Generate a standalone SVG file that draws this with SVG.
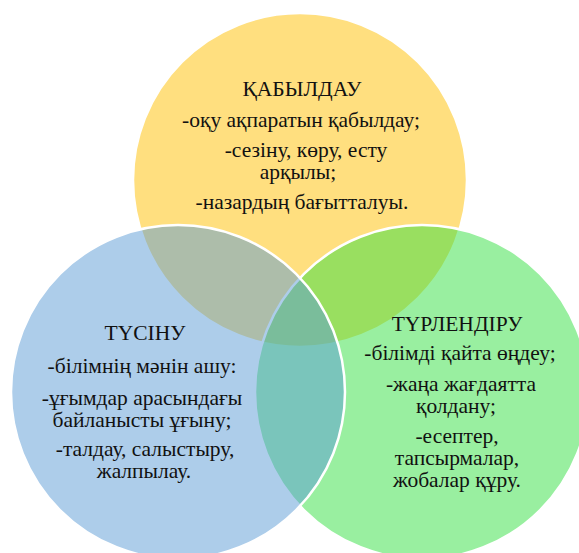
<svg xmlns="http://www.w3.org/2000/svg" width="579" height="553" viewBox="0 0 579 553">
  <style>
    .circle { stroke: #ffffff; stroke-width: 2.5; fill-opacity: 0.5; }
    .label { font-family: "Liberation Serif", "DejaVu Serif", serif; font-size: 21.5px; fill: #111111; text-anchor: middle; }
  </style>
  <rect width="579" height="553" fill="#ffffff"/>

  <!-- three overlapping sets, drawn back to front -->
  <g id="kabyldau">
    <circle class="circle" cx="300" cy="180" r="167" fill="#FFC000"/>
  </g>
  <g id="turlendiru">
    <circle class="circle" cx="422" cy="392" r="167" fill="#33DF41"/>
  </g>
  <g id="tusinu">
    <circle class="circle" cx="178" cy="392" r="167" fill="#5B9BD5"/>
  </g>

  <g id="connectors"></g>

  <!-- labels -->
  <g id="kabyldau-text">
    <text class="label" x="302" y="96">ҚАБЫЛДАУ</text>
    <text class="label" x="301" y="127">-оқу ақпаратын қабылдау;</text>
    <text class="label" x="306" y="157">-сезіну, көру, есту</text>
    <text class="label" x="298" y="179">арқылы;</text>
    <text class="label" x="302" y="209">-назардың бағытталуы.</text>
  </g>
  <g id="tusinu-text">
    <text class="label" x="145" y="340">ТҮСІНУ</text>
    <text class="label" x="142" y="373">-білімнің мәнін ашу:</text>
    <text class="label" x="142" y="405">-ұғымдар арасындағы</text>
    <text class="label" x="142" y="427">байланысты ұғыну;</text>
    <text class="label" x="145" y="456">-талдау, салыстыру,</text>
    <text class="label" x="144" y="478">жалпылау.</text>
  </g>
  <g id="turlendiru-text">
    <text class="label" x="457" y="331">ТҮРЛЕНДІРУ</text>
    <text class="label" x="460" y="360">-білімді қайта өңдеу;</text>
    <text class="label" x="461" y="391">-жаңа жағдаятта</text>
    <text class="label" x="456" y="413">қолдану;</text>
    <text class="label" x="457" y="443">-есептер,</text>
    <text class="label" x="457" y="465">тапсырмалар,</text>
    <text class="label" x="457" y="487">жобалар құру.</text>
  </g>
</svg>
